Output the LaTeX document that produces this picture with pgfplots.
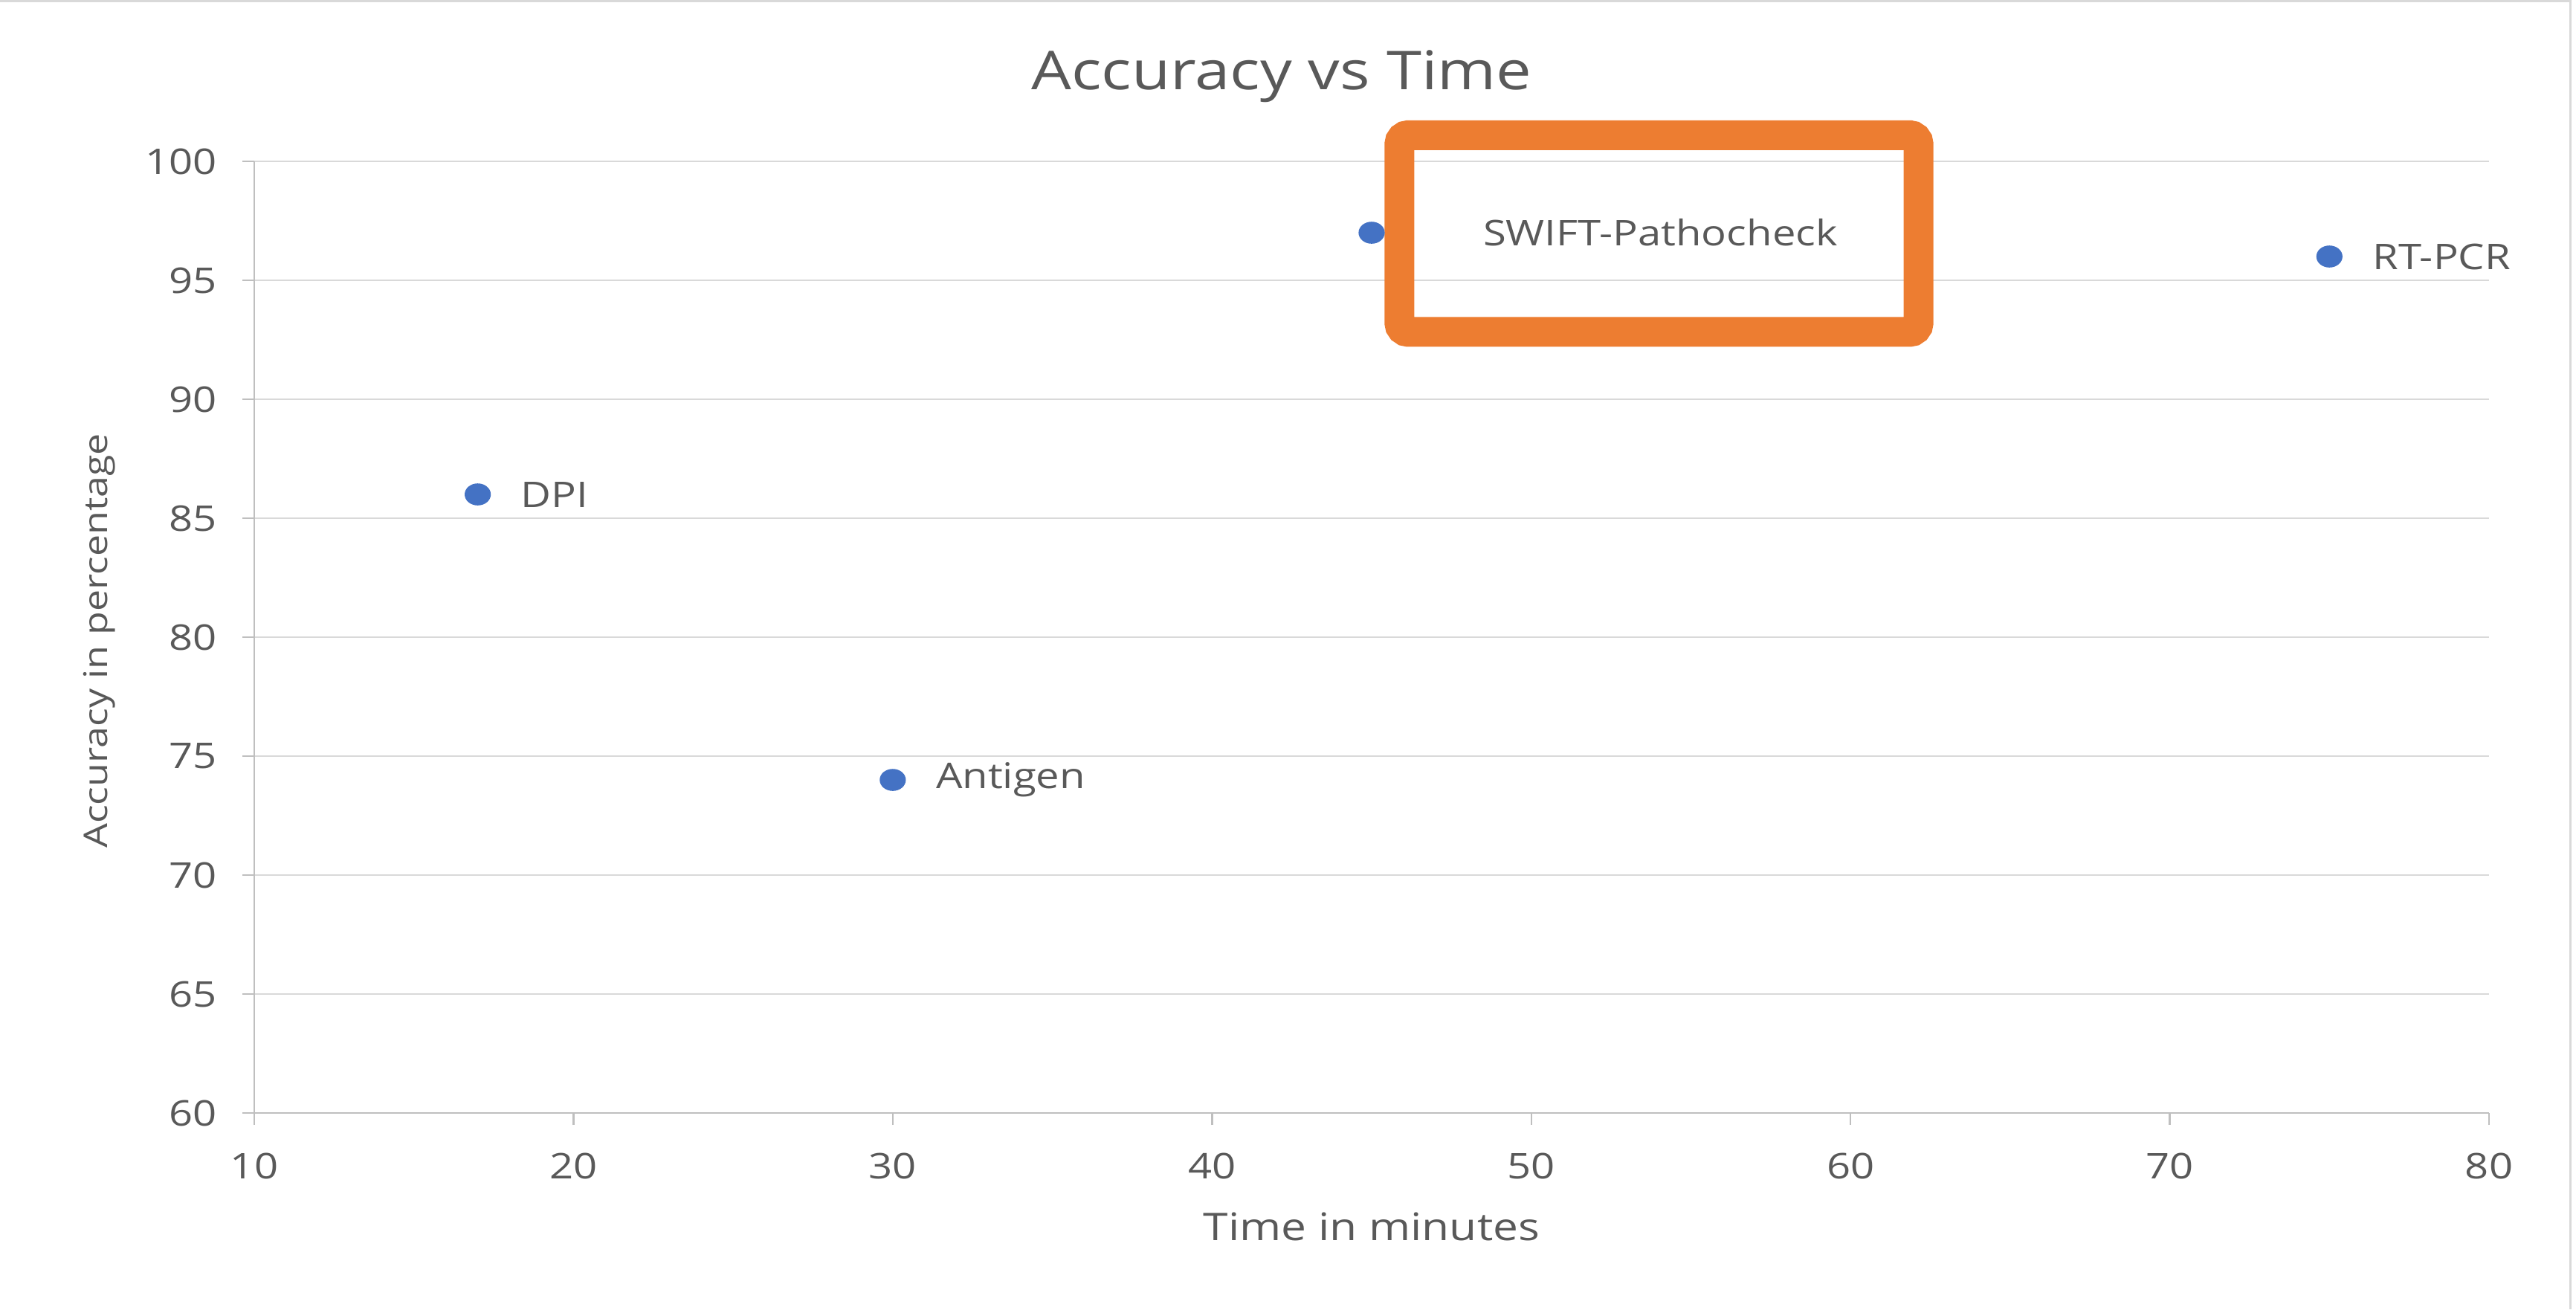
\documentclass[border=0pt]{standalone}
\usepackage{pgfplots}
\pgfplotsset{compat=1.18}
\usepackage{fontspec}
\setmainfont[FakeStretch=1.18]{Open Sans}
\definecolor{txt}{HTML}{595959}
\definecolor{gridc}{HTML}{D9D9D9}
\definecolor{axc}{HTML}{BFBFBF}
\definecolor{mk}{HTML}{4472C4}
\definecolor{org}{HTML}{ED7D31}
\begin{document}
\begin{tikzpicture}[x=1pt,y=1pt]
\path[use as bounding box] (0,0) rectangle (866.25,440.25);
\draw[gridc, line width=0.6pt] (0,439.9) -- (864.4,439.9) -- (864.4,0);
\node[txt, font=\fontsize{18}{20}\selectfont] at (431,414.5) {Accuracy vs Time};
\node[txt, font=\fontsize{12.8}{14}\selectfont] at (461.25,27.7) {Time in minutes};
\node[txt, font=\fontsize{11}{13}\selectfont, rotate=90] at (33.5,224.75) {Accuracy in percentage};
\begin{axis}[
  at={(85.5pt,66pt)}, anchor=south west,
  width=751.5pt, height=320pt, scale only axis,
  xmin=10, xmax=80, ymin=60, ymax=100,
  xtick={10,20,...,80}, ytick={60,65,...,100},
  clip=false,
  axis lines*=left,
  axis line style={draw=axc, line width=0.7pt},
  ymajorgrids, grid style={draw=gridc, line width=0.7pt},
  tick align=outside, major tick length=4pt,
  tick style={draw=axc, line width=0.6pt},
  ticklabel style={txt, font=\fontsize{11.9}{13}\selectfont},
  /pgf/number format/assume math mode=true,
  xticklabel style={yshift=-6pt},
  yticklabel style={xshift=-5pt},
]
\addplot[only marks, mark=*, mark size=3.5pt, mark options={draw=mk, fill=mk, xscale=1.2},
  nodes near coords, point meta=explicit symbolic,
  every node near coord/.style={anchor=west, xshift=11pt, yshift=0pt, txt, font=\fontsize{11.9}{13}\selectfont}]
  coordinates {(17,86)[DPI] (30,74)[Antigen] (75,96)[RT-PCR]};
\addplot[only marks, mark=*, mark size=3.5pt, mark options={draw=mk, fill=mk, xscale=1.2},
  nodes near coords, point meta=explicit symbolic,
  every node near coord/.style={anchor=west, xshift=34pt, txt, font=\fontsize{11.9}{13}\selectfont}]
  coordinates {(45,97)[SWIFT-Pathocheck]};
\draw[org, line width=10pt, rounded corners=3pt] (axis cs:45.87,101.1) rectangle (axis cs:62.13,92.83);
\end{axis}
\end{tikzpicture}
\end{document}
